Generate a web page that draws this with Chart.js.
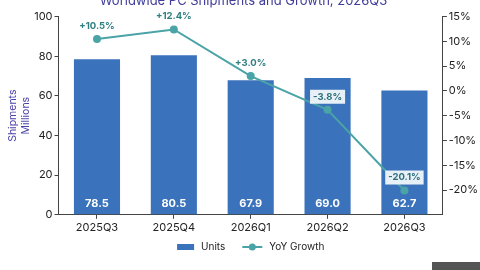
<!DOCTYPE html>
<html>
<head>
<meta charset="utf-8">
<script src="https://cdn.jsdelivr.net/npm/chart.js@4"></script>
<style>
  html, body { margin: 0; padding: 0; background: #fff; }
  #wrap { position: relative; width: 480px; height: 270px; overflow: hidden; }
  #chart-box { position: absolute; left: 0; top: -10px; width: 480px; height: 280px; }
  #badge { position: absolute; left: 432px; top: 262px; width: 48px; height: 8px; background: #555; }
</style>
</head>
<body>
<div id="wrap">
  <div id="chart-box"><canvas id="pc-chart"></canvas></div>
  <div id="badge"></div>
</div>
<script>
// ===============================
// DATA
// ===============================

const quarters = ["2025Q3", "2025Q4", "2026Q1", "2026Q2", "2026Q3"];
const units = [78.5, 80.5, 67.9, 69.0, 62.7];
const yoyGrowth = [10.5, 12.4, 3.0, -3.8, -20.1];
const growthTicks = [15, 10, 5, 0, -5, -10, -15, -20];

const barColor = "#3a72bb";
const lineColor = "#4aa3a6";
const labelTeal = "#2f7f80";
const fontFamily = "Inter, 'Noto Sans', sans-serif";

// ===============================
// LABEL + LEGEND PLUGIN
// ===============================

const valueLabels = {
  id: "valueLabels",
  afterDatasetsDraw(chart) {
    const ctx = chart.ctx;
    ctx.save();
    ctx.textAlign = "center";
    ctx.textBaseline = "middle";

    // bar values, white, near the base
    const barMeta = chart.getDatasetMeta(0);
    ctx.font = "bold 11px " + fontFamily;
    ctx.fillStyle = "#ffffff";
    barMeta.data.forEach((bar, i) => {
      ctx.fillText(units[i].toFixed(1), bar.x, bar.base - 11);
    });

    // growth values above the points
    const lineMeta = chart.getDatasetMeta(1);
    ctx.font = "bold 9.5px " + fontFamily;
    lineMeta.data.forEach((pt, i) => {
      const v = yoyGrowth[i];
      const txt = (v > 0 ? "+" : "") + v.toFixed(1) + "%";
      const y = pt.y - 13;
      if (v < 0) {
        const w = ctx.measureText(txt).width + 6;
        ctx.fillStyle = "rgba(240,246,250,0.95)";
        ctx.fillRect(pt.x - w / 2, y - 7, w, 14);
        ctx.fillStyle = "#2d6f78";
      } else {
        ctx.fillStyle = labelTeal;
      }
      ctx.fillText(txt, pt.x, y);
    });
    ctx.restore();
  },
  afterDraw(chart) {
    // legend below the x axis labels
    const ctx = chart.ctx;
    const names = chart.data.datasets.map(d => d.label);
    const y = chart.scales.x.bottom + 11;
    ctx.save();
    ctx.font = "10px " + fontFamily;
    ctx.textBaseline = "middle";
    ctx.textAlign = "left";
    const iconW = 17, lineW = 20, gapText = 7, gapItem = 17;
    const total = iconW + gapText + ctx.measureText(names[0]).width + gapItem +
                  lineW + gapText + ctx.measureText(names[1]).width;
    let x = (chart.chartArea.left + chart.chartArea.right) / 2 - total / 2;

    ctx.fillStyle = barColor;
    ctx.fillRect(x, y - 3, iconW, 6);
    x += iconW + gapText;
    ctx.fillStyle = "#222";
    ctx.fillText(names[0], x, y);
    x += ctx.measureText(names[0]).width + gapItem;

    ctx.strokeStyle = lineColor;
    ctx.lineWidth = 2;
    ctx.beginPath();
    ctx.moveTo(x, y);
    ctx.lineTo(x + lineW, y);
    ctx.stroke();
    ctx.fillStyle = lineColor;
    ctx.beginPath();
    ctx.arc(x + lineW / 2, y, 3.5, 0, Math.PI * 2);
    ctx.fill();
    x += lineW + gapText;
    ctx.fillStyle = "#222";
    ctx.fillText(names[1], x, y);
    ctx.restore();
  }
};

// ===============================
// CHART
// ===============================

Chart.defaults.font.family = fontFamily;
Chart.defaults.color = "#222";

new Chart(document.getElementById("pc-chart"), {
  type: "bar",
  data: {
    labels: quarters,
    datasets: [
      {
        label: "Units",
        data: units,
        backgroundColor: barColor,
        barPercentage: 0.6,
        categoryPercentage: 1,
        yAxisID: "y",
        order: 2
      },
      {
        type: "line",
        label: "YoY Growth",
        data: yoyGrowth,
        borderColor: lineColor,
        backgroundColor: lineColor,
        borderWidth: 2,
        pointRadius: 4,
        pointBackgroundColor: lineColor,
        pointBorderWidth: 0,
        yAxisID: "y1",
        order: 1
      }
    ]
  },
  options: {
    responsive: true,
    maintainAspectRatio: false,
    animation: false,
    layout: { padding: { left: 7, right: 0, top: 0, bottom: 34 } },
    plugins: {
      title: {
        display: true,
        text: "Worldwide PC Shipments and Growth, 2026Q3",
        color: "#3f3c9c",
        font: { size: 13, weight: "normal" },
        padding: { top: 3, bottom: 8 }
      },
      legend: { display: false },
      tooltip: { enabled: false }
    },
    scales: {
      x: {
        grid: { display: true, drawOnChartArea: false, offset: false, tickLength: 4, color: "#444" },
        border: { display: true, color: "#444", width: 1 },
        ticks: { font: { size: 11 }, color: "#222", padding: 2 }
      },
      y: {
        position: "left",
        min: 0,
        max: 100,
        ticks: { stepSize: 20, font: { size: 11 }, color: "#222", padding: 2 },
        grid: { display: true, drawOnChartArea: false, tickLength: 4, color: "#444" },
        border: { display: true, color: "#444", width: 1 },
        title: {
          display: true,
          text: ["Shipments", "Millions"],
          color: "#4a44a8",
          font: { size: 10.5 },
          padding: { top: 0, bottom: 0 }
        }
      },
      y1: {
        position: "right",
        min: -25,
        max: 15,
        afterBuildTicks(axis) {
          axis.ticks = growthTicks.map(v => ({ value: v }));
        },
        ticks: {
          font: { size: 11 },
          color: "#222",
          padding: 2,
          callback: v => v + "%"
        },
        grid: { display: true, drawOnChartArea: false, tickLength: 4, color: "#444" },
        border: { display: true, color: "#444", width: 1 }
      }
    }
  },
  plugins: [valueLabels]
});
</script>
</body>
</html>
